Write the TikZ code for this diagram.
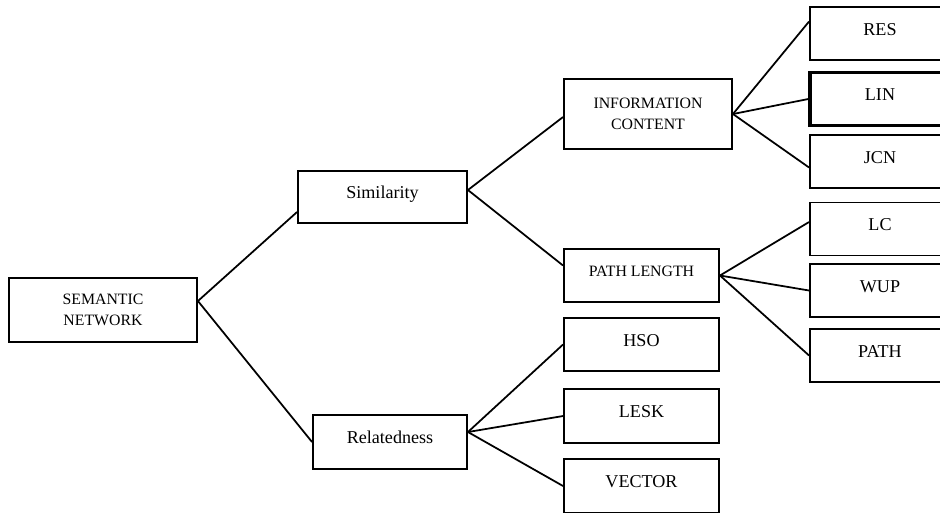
\documentclass[tikz,border=0pt]{standalone}
\usepackage{fontspec}
\setmainfont{Liberation Serif}
\usepackage{tikz}

\begin{document}
\begin{tikzpicture}[x=0.02cm,y=-0.02cm,
 box/.style={draw,line width=1.1pt,inner sep=0pt,align=center,
             font=\fontsize{10.3}{12}\selectfont},
 one/.style={box,text height=6.8pt,text depth=4.6pt},
 two/.style={box,font=\fontsize{9}{11.6}\selectfont},
 small/.style={box,font=\fontsize{9}{11.6}\selectfont,text height=6pt,text depth=5.4pt},
 leaf/.style={one,minimum width=2.8cm,minimum height=1.06cm},
 mid/.style={one,minimum width=3.1cm,minimum height=1.07cm},
 link/.style={line width=1pt}
]
\clip (0,0) rectangle (940,512);

\node[two,minimum width=3.76cm,minimum height=1.28cm] (semnet) at (103,310) {SEMANTIC\\NETWORK};
\node[one,minimum width=3.38cm,minimum height=1.04cm] (simil) at (382.5,197) {Similarity};
\node[one,minimum width=3.08cm,minimum height=1.08cm] (relat) at (390,442) {Relatedness};

\node[two,minimum width=3.36cm,minimum height=1.4cm] (infoc) at (648,114) {INFORMATION\\CONTENT};
\node[small,minimum width=3.1cm,minimum height=1.06cm] (pathl) at (641.5,275.5) {PATH LENGTH};
\node[mid] (hso) at (641.5,344.5) {HSO};
\node[mid] (lesk) at (641.5,416) {LESK};
\node[mid] (vector) at (641.5,486) {VECTOR};

\node[leaf] (res) at (880,33.5) {RES};
\node[leaf,line width=2pt] (lin) at (880,99) {LIN};
\node[leaf] (jcn) at (880,161.5) {JCN};
\node[leaf] (lc) at (880,229) {LC};
\node[leaf] (wup) at (880,290.5) {WUP};
\node[leaf] (pathm) at (880,355.5) {PATH};

\draw[link] ([yshift=-0.3cm]simil.west) -- ([yshift=0.18cm]semnet.east) -- (relat.west);
\draw[link] ([yshift=-0.06cm]infoc.west) -- ([yshift=0.14cm]simil.east) -- ([yshift=0.2cm]pathl.west);
\draw[link] ([yshift=0.2cm]relat.east) -- (hso.west);
\draw[link] ([yshift=0.2cm]relat.east) -- (lesk.west);
\draw[link] ([yshift=0.2cm]relat.east) -- (vector.west);
\draw[link] (infoc.east) -- ([yshift=0.24cm]res.west);
\draw[link] (infoc.east) -- (lin.west);
\draw[link] (infoc.east) -- ([yshift=-0.12cm]jcn.west);
\draw[link] (pathl.east) -- ([yshift=0.14cm]lc.west);
\draw[link] (pathl.east) -- (wup.west);
\draw[link] (pathl.east) -- (pathm.west);
\end{tikzpicture}
\end{document}
